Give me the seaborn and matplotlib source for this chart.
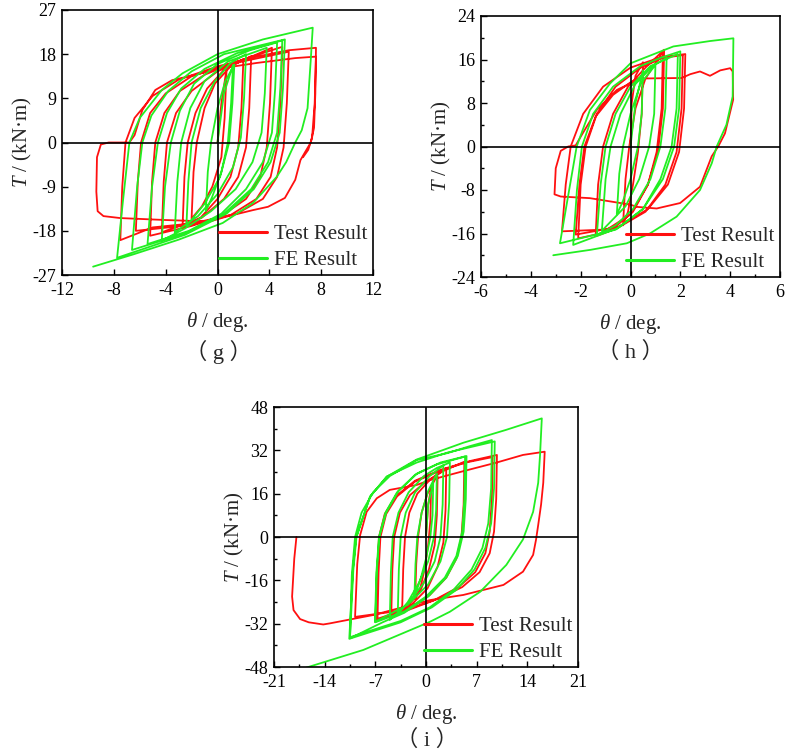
import pandas as pd
import seaborn as sns
import matplotlib.pyplot as plt
from matplotlib.ticker import MultipleLocator, AutoMinorLocator

# ---- data: (theta in deg, torque in kN*m), one continuous path per series ----

# (g)
g_test_theta = [0, 0.3, 0.7, 0.55, 0.3, -0.4, -1.2, -2.0, -1.85, -1.6, -1.0, -0.2, 1.0, 2.0,
                1.85, 1.6, 1.0, 0, -1.3, -2.7, -2.55, -2.3, -1.7, -0.8, 0.5, 2.6,
                2.45, 2.2, 1.6, 0.5, -1.2, -4.3, -4.15, -3.9, -3.2, -2, 0, 2, 4.2,
                4.05, 3.8, 3.3, 2.2, 0.3, -2, -5.2, -5.05, -4.8, -4.1, -2.9, -1, 1.5, 5.0,
                4.85, 4.6, 4.1, 3, 1, -2, -6.3, -6.15, -5.9, -5.2, -4, -2, 1, 5.5,
                5.35, 5.1, 4.6, 3.5, 1.5, -2, -5, -7.5, -7.35, -7.1, -6.4, -5, -3, 0, 3, 5.5, 7.6,
                7.55, 7.45, 7.2, 6.75, 6.4, 6.0, 5.2, 3.9, 2.7, 0.7, -0.6, -4, -7.5, -8.8, -9.25,
                -9.35, -9.3, -9.0, -8.4, -6.8, -6.4, -5.8, -4.8, -3.5, -1.7, 0, 3, 6, 7.6,
                7.5, 7.3, 7.0, 6.6]
g_test_T = [0, 8, 15.0, 5, -3, -9, -13, -15.5, -6, 0, 7, 12, 15.5, 17.0,
            7, -1, -7, -11.5, -15.3, -17.4, -7, 0, 6, 11, 14.8, 17.6,
            7, -1, -7, -11.5, -15.3, -18.3, -8, 0, 6, 10.5, 14.5, 16.8, 19.3,
            8, -1, -7, -11.5, -15, -17, -19.0, -8, 0, 6, 10.5, 13.8, 16.5, 19.5,
            8, -1, -7, -11.5, -14.8, -16.8, -18.0, -8, 0, 6, 10, 13.5, 16, 18.5,
            8, -1, -7, -11.5, -14.5, -16.5, -17.3, -19.9, -9, 0, 5, 9.5, 12.8, 15.5, 17.5, 18.8, 19.3,
            10, 3, 0, -2, -3.6, -7.6, -11.3, -13.1, -13.8, -15.1, -16.1, -15.8, -15.4, -15.0, -14.0,
            -10, -3, -0.4, 0, 0, 1.5, 6.6, 10.7, 12.7, 13.8, 15, 16.2, 17.2, 17.5,
            8, 1, -1.5, -3]

g_fe_theta = [0, 0.5, 1.2, 1.05, 0.8, 0.3, -0.4, -0.9, -0.75, -0.5, 0, 0.6, 1.3,
              1.15, 0.9, 0.2, -1.0, -2.4, -2.25, -2.0, -1.3, -0.2, 1.0, 2.2,
              2.05, 1.8, 1.2, 0, -1.5, -3.3, -3.1, -2.8, -2.1, -1, 0.8, 3.8,
              3.65, 3.4, 2.7, 1.4, -0.5, -2.5, -4.3, -4.05, -3.6, -2.9, -1.8, 0, 2.5, 4.6,
              4.45, 4.2, 3.5, 2.2, 0.3, -2.2, -5.4, -5.05, -4.6, -3.9, -2.8, -1, 1.5, 5.0,
              4.85, 4.6, 3.9, 2.6, 0.5, -2.5, -6.6, -6.2, -5.8, -5.1, -3.8, -2, 0.5, 5.2,
              5.05, 4.8, 4.1, 2.8, 0.7, -2.5, -7.75, -7.3, -6.8, -6.0, -4.3, -2.7, 0, 3.5, 7.35,
              7.2, 6.95, 6.5, 6.0, 5.3, 4.57, 2.75, 0.4, -3, -6.5, -9.6]
g_fe_T = [0, 10, 15.8, 8, 0, -6, -11, -14.0, -6, 0, 7, 12.5, 15.9,
          8, 0, -7, -12.5, -17.0, -8, 0, 7, 12.5, 16.2, 18.0,
          9, 1, -5, -10.5, -15, -18.3, -8, 0, 7, 12.5, 16.5, 19.3,
          10, 2, -4, -9.5, -14, -17.5, -20.0, -9, 0, 6.5, 12, 16, 18.8, 20.4,
          11, 2, -4, -9.5, -14.5, -18, -20.7, -9, 0, 6, 11, 15, 18.2, 20.8,
          11, 2, -4, -9.5, -14.5, -18.5, -21.9, -9, 0, 5.5, 10.5, 14.5, 18, 21.0,
          11, 2, -4, -9.5, -14.5, -18.8, -23.5, -12, 0, 5, 10.7, 14.1, 18.0, 21.0, 23.4,
          17, 7, 2.5, 0, -4, -7, -12.3, -16.4, -19.8, -22.8, -25.3]

# (h)
h_test_theta = [0, 0.05, 0.2, 0.5, 0.45, 0.3, 0.1, -0.1, -0.3, -0.2, -0.05, 0.2, 0.6, 1.3,
                1.25, 1.05, 0.7, 0.1, -0.8, -1.4, -1.3, -1.1, -0.7, -0.1, 0.6, 1.35,
                1.3, 1.1, 0.7, 0, -1.2, -2.1, -2.0, -1.8, -1.35, -0.6, 0.4, 1.3, 2.1,
                2.05, 1.85, 1.4, 0.6, -0.6, -2.75, -2.6, -2.4, -1.9, -1.1, 0, 1.2, 2.2,
                2.15, 1.95, 1.5, 0.7, -0.5, -2.2, -2.05, -1.85, -1.4, -0.7, 0, 0.3, 2.05,
                2.4, 2.79, 3.19, 3.6, 4.0, 4.1, 4.12, 3.79, 3.52, 3.26, 2.79, 1.99, 1.05,
                0.25, 0, -1.63, -2.8, -3.05, -3.0, -2.8, -2.5, -2.2, -1.96, -1.36, -0.55, 0, 0.4]
h_test_T = [0, 8, 13, 15.5, 6, -1, -7, -12, -14.5, -6, 0, 7, 12.5, 17.4,
            7, -1, -7, -12, -15.5, -16.5, -7, 0, 6, 11, 14.5, 17.8,
            7, -1, -7, -12.5, -16, -16.9, -7, 0, 6, 11, 14.5, 16.3, 16.8,
            7, -1, -7, -12, -15.2, -15.6, -7, 0, 6, 11, 14.5, 16.4, 17.0,
            7, -1, -7, -11.5, -14.8, -16.2, -7, 0, 5.5, 9.5, 11.8, 12.5, 12.6,
            13.3, 13.8, 13.0, 14.0, 14.4, 13.8, 8.6, 2.4, 0, -1.8, -7.4, -10.4, -11.4,
            -11.1, -10.7, -9.5, -9.2, -8.8, -4, -0.8, 0, 0.2, 2.1, 6.7, 10.4, 11.6, 12.3]

h_fe_theta = [0, 0.2, 0.5, 0.45, 0.3, 0, -0.3, -0.55, -0.45, -0.3, 0, 0.4, 1.0,
              0.95, 0.75, 0.35, -0.2, -1.15, -1.0, -0.8, -0.4, 0.2, 0.9, 1.45,
              1.4, 1.2, 0.8, 0.1, -0.6, -1.35, -1.2, -1.0, -0.6, 0, 0.8, 1.9,
              1.85, 1.65, 1.2, 0.5, -0.5, -2.3, -2.15, -1.95, -1.5, -0.7, 0.4, 1.2, 2.0,
              1.95, 1.75, 1.3, 0.5, -0.6, -2.83, -2.5, -2.16, -1.63, -0.82, 0, 1.72, 3.2, 4.13,
              4.1, 3.85, 3.46, 3.26, 2.79, 1.85, 0.78, -0.15, -1.6, -3.1]
h_fe_T = [0, 8, 14, 6, 0, -6, -10, -12.5, -5, 0, 6, 11.5, 15.0,
          6, 0, -6, -11, -15.5, -6, 0, 6, 11.5, 14.8, 16.3,
          7, 0, -6, -11.5, -14.5, -16.3, -7, 0, 6, 11, 14.8, 17.0,
          7, 0, -6, -11.5, -15, -18.1, -8, 0, 6, 11, 14.8, 16.3, 17.5,
          7, 0, -6, -11.5, -15.3, -17.8, -9, 0, 6.7, 11.6, 15.3, 18.4, 19.4, 19.9,
          9.2, 4, 0, -3.1, -8, -12.9, -16, -17.8, -19, -20.0]

# (i)
i_test_theta = [0, 0.3, 0.7, 0.6, 0.3, -0.2, -0.8, -1.5, -1.35, -1.1, -0.6, 0.2, 1.2, 1.6,
                1.5, 1.2, 0.4, -0.8, -2.5, -3.3, -3.15, -2.9, -2.3, -1.2, 0.5, 2.8,
                2.7, 2.4, 1.6, 0.2, -2, -4.8, -4.65, -4.4, -3.6, -2.2, 0, 2.5, 5.3,
                5.2, 4.9, 4.2, 2.8, 0.5, -2.5, -6.7, -6.55, -6.3, -5.5, -4, -1.5, 2, 5.5, 9.2,
                9.1, 8.8, 8.2, 6.8, 4.5, 1, -3, -6.9, -6.75, -6.5, -5.7, -4.2, -1.5, 2, 6, 9.8,
                9.7, 9.4, 8.8, 7.4, 5, 1.5, -3, -9.8, -9.5, -9.1, -8.2, -6.8, -5, -1.3, 0.55, 5,
                9.77, 13.4, 16.4, 16.2, 15.9, 15.5, 15.2, 14.8, 13.4, 10.7, 5.15, 0.55, -7.28,
                -13.3, -14.2, -16.2, -17.4, -18.3, -18.5, -18.2, -17.9]
i_test_T = [0, 12, 18, 6, -3, -12, -19, -23, -10, 0, 9, 16, 21, 22.5,
            8, -3, -12, -20, -25.5, -27.5, -12, 0, 9, 16, 21, 25.5,
            10, -2, -11, -19, -25, -29.0, -12, 0, 9, 15.5, 20.5, 24.5, 27.8,
            12, 0, -8, -15, -21.5, -26.5, -30.2, -13, 0, 8.5, 15, 20.5, 24.5, 27.5, 29.5,
            14, 2, -6, -13, -18.5, -23.5, -27.5, -30.8, -13, 0, 8.5, 15, 20.8, 24.8, 28, 30.3,
            14, 2, -6, -13, -18.5, -23, -27, -29.5, -10, 0.7, 9.3, 14.3, 17.4, 19.2, 21, 24.2,
            27.5, 30.3, 31.5, 20, 12, 4.4, -1, -6.6, -12.8, -17.7, -21.4, -23.3, -28.8,
            -31.9, -32.3, -31.5, -30.3, -27, -22, -8, 0]

i_fe_theta = [0, 0.3, 1.0, 0.9, 0.6, 0, -0.8, -1.6, -1.45, -1.2, -0.6, 0.3, 1.5,
              1.4, 1.1, 0.3, -1, -2.5, -3.9, -3.75, -3.5, -2.8, -1.5, 0.5, 2.4,
              2.3, 2.0, 1.2, -0.3, -2.5, -5.0, -4.85, -4.6, -3.8, -2.4, -0.3, 1.5, 3.3,
              3.2, 2.9, 2.0, 0.3, -2.5, -7.05, -6.85, -6.5, -5.6, -4, -1.5, 1.5, 5.4,
              5.3, 5.0, 4.2, 2.6, 0, -3, -7.0, -6.8, -6.45, -5.5, -3.8, -1.2, 2, 5.6,
              5.5, 5.2, 4.4, 2.8, 0.3, -3, -6, -10.5, -10.25, -9.8, -8.9, -7.3, -5, -1.3, 3, 6, 9.1,
              9.0, 8.6, 7.8, 6.3, 3.8, 0.5, -3.5, -10.5, -10.04, -9.6, -7.74, -5.43, -1.28, 3, 9.5,
              9.4, 9.0, 8.2, 6.7, 4.2, 0.8, -3.5, -10.6, -10.1, -9.65, -7.7, -5.4, -1.3, 5.15, 11, 16.0,
              15.75, 15.5, 14.8, 13.4, 11.1, 7.5, 3.3, 0.55, -8.66, -16.5, -18]
i_fe_T = [0, 12, 20, 8, 0, -8, -16, -22, -10, 0, 9, 17, 23.5,
          10, 0, -9, -17, -24, -28.5, -12, 0, 9, 16.5, 22.5, 26.5,
          12, 0, -9, -17, -24.5, -30.6, -13, 0, 9, 16.5, 22.5, 25.5, 27.5,
          13, 0, -9, -17.5, -25, -31.3, -13, 0, 9, 16.5, 23, 26.8, 29.7,
          14, 2, -7, -15, -22, -27.5, -31.5, -13, 0, 9, 17, 23.5, 27.5, 29.9,
          14, 2, -7, -15, -22, -28, -31.5, -37.4, -14, 0, 9, 16.5, 22.5, 28.4, 31, 33.5, 35.8,
          18, 5, -4, -12, -19.5, -26, -31, -37.0, -12.2, 0, 14.9, 22.3, 27.5, 31.2, 35.3,
          18, 5, -4, -12, -19.5, -26, -31.5, -37.6, -12, 0, 15, 22.3, 28.6, 34.8, 39.5, 43.8,
          30, 20, 9.3, -0.9, -10.3, -20.2, -27.6, -31.3, -41.7, -48.2, -49.6]

series_names = ["Test Result", "FE Result"]
palette = {"Test Result": "#FF1010", "FE Result": "#22EE22"}

panels = [
    # caption, test (theta, T), FE (theta, T), xlim, xstep, ylim, ystep, minor ticks
    ("（ g ）", (g_test_theta, g_test_T), (g_fe_theta, g_fe_T), (-12, 12), 4, (-27, 27), 9, False),
    ("（ h ）", (h_test_theta, h_test_T), (h_fe_theta, h_fe_T), (-6, 6), 2, (-24, 24), 8, True),
    ("（ i ）", (i_test_theta, i_test_T), (i_fe_theta, i_fe_T), (-21, 21), 7, (-48, 48), 16, True),
]

# axes boxes in pixels (left, top, right, bottom) of a 788x753 figure
boxes = [(62, 10, 373, 275), (481, 16, 780, 277), (274, 407, 578, 667)]
captions_xy = [(218, 352), (630, 352), (427, 740)]

sns.set_theme(style="ticks")
plt.rcParams["font.family"] = ["Liberation Serif", "Noto Sans CJK SC"]
plt.rcParams["mathtext.fontset"] = "custom"
plt.rcParams["mathtext.rm"] = "Liberation Serif"
plt.rcParams["mathtext.it"] = "Liberation Serif:italic"
plt.rcParams["axes.unicode_minus"] = False

W, H = 788, 753
fig = plt.figure(figsize=(W / 100, H / 100), dpi=100)

for (cap, test, fe, xlim, xstep, ylim, ystep, minor), box, cxy in zip(panels, boxes, captions_xy):
    l, t, r, b = box
    ax = fig.add_axes([l / W, 1 - b / H, (r - l) / W, (b - t) / H])

    df = pd.concat([
        pd.DataFrame({"theta": test[0], "T": test[1], "series": "Test Result"}),
        pd.DataFrame({"theta": fe[0], "T": fe[1], "series": "FE Result"}),
    ], ignore_index=True)

    sns.lineplot(data=df, x="theta", y="T", hue="series", hue_order=series_names,
                 palette=palette, sort=False, estimator=None, lw=1.3, ax=ax)

    ax.axhline(0, color="black", lw=1.2, zorder=4)
    ax.axvline(0, color="black", lw=1.2, zorder=4)

    ax.set_xlim(*xlim)
    ax.set_ylim(*ylim)
    ax.xaxis.set_major_locator(MultipleLocator(xstep))
    ax.yaxis.set_major_locator(MultipleLocator(ystep))
    if minor:
        ax.xaxis.set_minor_locator(AutoMinorLocator(2))
        ax.yaxis.set_minor_locator(AutoMinorLocator(2))
    ax.tick_params(which="both", direction="in", top=False, right=False,
                   width=1.0, color="black", labelsize=13, labelcolor="black")
    ax.tick_params(which="major", length=4)
    ax.tick_params(which="minor", length=2.5)
    ax.tick_params(axis="x", pad=5)
    ax.tick_params(axis="y", pad=4)
    for sp in ax.spines.values():
        sp.set_linewidth(1.2)
        sp.set_color("black")

    ax.set_xlabel(r"$\theta$ / deg.", fontsize=15, labelpad=8)
    ax.set_ylabel(r"$T$ / (kN·m)", fontsize=15, labelpad=-1)

    handles, labels = ax.get_legend_handles_labels()
    leg = ax.legend(handles, labels, loc="lower right", frameon=False, fontsize=15,
                    handlelength=2.3, handletextpad=0.35, labelspacing=0.3,
                    borderaxespad=0.15, borderpad=0.1)
    for hl in leg.get_lines():
        hl.set_linewidth(2.2)

    fig.text(cxy[0] / W, 1 - cxy[1] / H, cap, ha="center", va="center", fontsize=16)

fig.savefig("out.png", dpi=100)
